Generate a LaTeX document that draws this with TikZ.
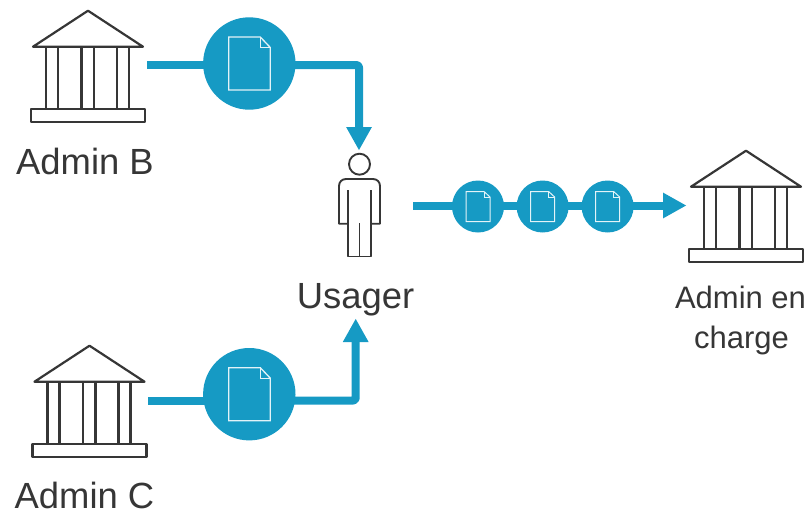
\documentclass[tikz,border=0pt]{standalone}
\usepackage{fontspec}
\setmainfont{Liberation Sans}
\usetikzlibrary{arrows.meta}
\definecolor{flow}{HTML}{169AC4}
\definecolor{ink}{HTML}{363636}
\tikzset{
  x=1pt,y=-1pt,
  icon/.style={draw=ink,line width=2.2pt,line join=round,fill=none},
  thin icon/.style={draw=ink,line width=1.9pt,line join=round,fill=none},
  big disc/.style={circle,fill=flow,inner sep=0pt,minimum size=92.4pt},
  small disc/.style={circle,fill=flow,inner sep=0pt,minimum size=52pt},
  flowline/.style={draw=flow,line width=8pt,line join=round,rounded corners=2.5pt},
  flowarrow/.style={flowline,-{Triangle[width=24pt,length=23.5pt]}},
  label big/.style={text=ink,font=\fontsize{36.4}{36.4}\selectfont,inner sep=0pt,anchor=base},
  label small/.style={text=ink,font=\fontsize{31}{31}\selectfont,inner sep=0pt,anchor=base},
  docline/.style={draw=white!88!flow,line join=miter},
  pics/bank/.style={code={
    \draw[icon] (0,0) -- (-55,36) -- (55,36) -- cycle;
    \foreach \c in {-42,-30,-6.5,6,29,41}{\draw[icon] (\c,36) -- (\c,98.5);}
    \draw[icon] (-57,98.5) rectangle (57,111);
  }},
  pics/bigdoc/.style={code={
    \draw[docline,line width=1.3pt] (-20.5,-26.5) -- (11,-26.5) -- (21,-16) -- (21,26.5) -- (-20.5,26.5) -- cycle;
    \draw[docline,line width=1.3pt] (11,-26.5) -- (11,-16) -- (21,-16);
  }},
  pics/smalldoc/.style={code={
    \draw[docline,line width=1pt] (-12,-15) -- (6,-15) -- (12,-9.5) -- (12,15) -- (-12,15) -- cycle;
    \draw[docline,line width=1pt] (6,-15) -- (6,-9.5) -- (12,-9.5);
  }},
}
\begin{document}
\begin{tikzpicture}
\useasboundingbox (0,0) rectangle (810,512);
\pic at (88,10.7) {bank};
\pic at (89.5,345.7) {bank};
\pic at (746,150.7) {bank};

% person
\node[circle,thin icon,inner sep=0pt,minimum size=21pt] (head) at (359.5,164.2) {};
\draw[thin icon] (348.3,190) -- (348.3,256.5) -- (371,256.5) -- (371,190);
\draw[thin icon] (359.5,223) -- (359.5,256.5);
\draw[thin icon] (348.3,223.7) -- (339,223.7) -- (339,186) .. controls (339,182) and (342,179) .. (346,179) -- (373,179) .. controls (377,179) and (380,182) .. (380,186) -- (380,223.7) -- (371,223.7);

% discs
\node[big disc] (d1) at (249.3,63.5) {};
\node[big disc] (d2) at (249.3,394.2) {};
\node[small disc] (s1) at (478,206.5) {};
\node[small disc] (s2) at (542.6,206.5) {};
\node[small disc] (s3) at (607.6,206.5) {};

% connector ends
\coordinate (bstart) at (147,65);
\coordinate (cstart) at (148,400.5);
\coordinate (ustart) at (413,205.5);
\coordinate (btip) at (359,150.5);
\coordinate (ctip) at (355.7,318.5);
\coordinate (rtip) at (686.5,205.5);

\draw[flowline] (bstart) -- (bstart -| d1);
\draw[flowarrow] (bstart -| d1) -| (btip);
\draw[flowline] (cstart) -- (cstart -| d2);
\draw[flowarrow] (cstart -| d2) -| (ctip);
\draw[flowarrow] (ustart) -- (rtip);

% documents
\pic at (d1) {bigdoc};
\pic at (d2) {bigdoc};
\pic at (s1) {smalldoc};
\pic at (s2) {smalldoc};
\pic at (s3) {smalldoc};

% labels
\node[label big] (lb) at (85,174) {Admin B};
\node[label big] (lc) at (84.5,508) {Admin C};
\node[label big] (lu) at (355.5,308) {Usager};
\node[label small] (le1) at (740.5,308.5) {Admin en};
\node[label small] (le2) at (741.5,348) {charge};
\end{tikzpicture}
\end{document}
